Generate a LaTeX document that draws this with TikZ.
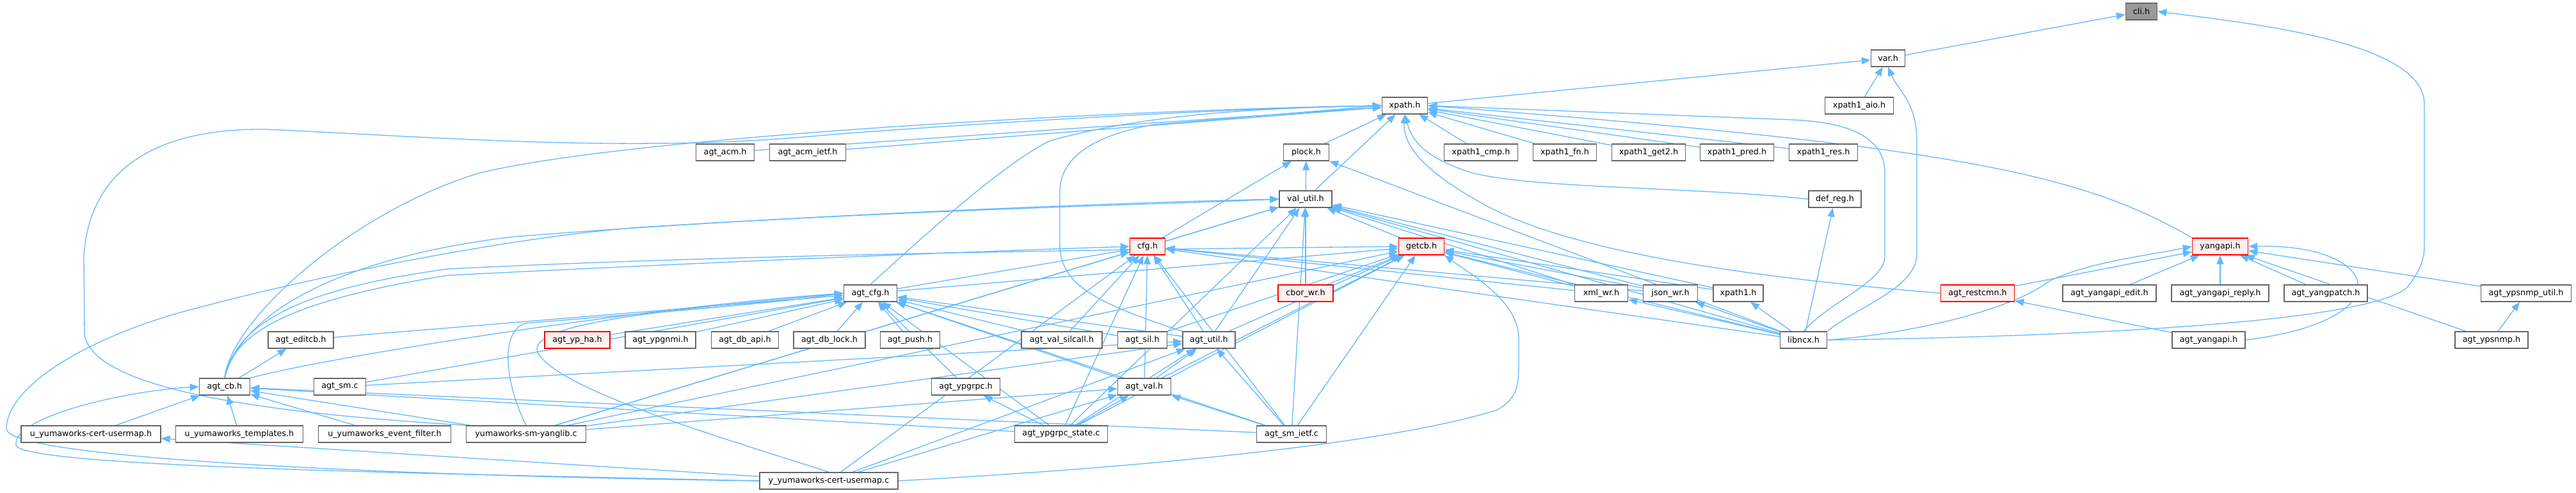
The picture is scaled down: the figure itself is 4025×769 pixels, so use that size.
\documentclass[tikz,border=0pt]{standalone}
\usepackage{fontspec}
\setmainfont{DejaVu Sans}
\usetikzlibrary{arrows.meta}
\definecolor{eblue}{HTML}{63B8FF}
\definecolor{bgray}{HTML}{666666}
\definecolor{pinkbg}{HTML}{FFF0F0}
\definecolor{cligray}{HTML}{999999}
\pgfdeclarelayer{bg}
\pgfsetlayers{bg,main}
\tikzset{
  nd/.style={draw=bgray, line width=1.4pt, fill=white, minimum height=26pt, inner sep=0pt,
    font=\fontsize{12.75}{15}\selectfont},
  rd/.style={nd, draw=red, fill=pinkbg},
  gd/.style={nd, fill=cligray},
  e/.style={draw=eblue, line width=1.3pt, -{Triangle[length=14pt,width=11pt]}},
}
\newcommand\mknode[6][nd]{\node[#1, minimum width=#5pt] (#2) at (#3,#4) {#6};}
\begin{document}
\begin{tikzpicture}[x=1pt,y=-1pt]
\useasboundingbox (0,0) rectangle (4025,769);
% row 0-2
\mknode[gd]{cli}{3346}{18}{49}{cli.h}
\mknode{var}{2950}{91}{53}{var.h}
\mknode{xpath}{2195}{165}{71}{xpath.h}
\mknode{xaio}{2905}{165}{107}{xpath1\_aio.h}
% row 3
\mknode{acm}{1133}{238}{91}{agt\_acm.h}
\mknode{acmietf}{1262}{238}{119}{agt\_acm\_ietf.h}
\mknode{plock}{2041}{238}{71}{plock.h}
\mknode{xcmp}{2314}{238}{115}{xpath1\_cmp.h}
\mknode{xfn}{2445}{238}{99}{xpath1\_fn.h}
\mknode{xget2}{2576}{238}{115}{xpath1\_get2.h}
\mknode{xpred}{2714}{238}{115}{xpath1\_pred.h}
\mknode{xres}{2849}{238}{107}{xpath1\_res.h}
% row 4
\mknode{valutil}{2040}{311}{82}{val\_util.h}
\mknode{defreg}{2867}{311}{82}{def\_reg.h}
% row 5
\mknode[rd]{cfg}{1793}{385}{55}{cfg.h}
\mknode[rd]{getcb}{2221}{385}{71}{getcb.h}
\mknode[rd]{yangapi}{3469}{385}{87}{yangapi.h}
% row 6
\mknode{agtcfg}{1360}{458}{83}{agt\_cfg.h}
\mknode[rd]{cbor}{2040}{458}{86}{cbor\_wr.h}
\mknode{xmlwr}{2502}{458}{83}{xml\_wr.h}
\mknode{jsonwr}{2610}{458}{85}{json\_wr.h}
\mknode{xpathone}{2716}{458}{78}{xpath1.h}
\mknode[rd]{restcmn}{3090}{458}{115}{agt\_restcmn.h}
\mknode{yedit}{3296}{458}{146}{agt\_yangapi\_edit.h}
\mknode{yreply}{3469}{458}{152}{agt\_yangapi\_reply.h}
\mknode{ypatch}{3634}{458}{130}{agt\_yangpatch.h}
\mknode{ypsutil}{3947}{458}{141}{agt\_ypsnmp\_util.h}
% row 7
\mknode{editcb}{470}{531}{102}{agt\_editcb.h}
\mknode[rd]{ypha}{902}{531}{102}{agt\_yp\_ha.h}
\mknode{ypgnmi}{1032}{531}{110}{agt\_ypgnmi.h}
\mknode{dbapi}{1164}{531}{105}{agt\_db\_api.h}
\mknode{dblock}{1296}{531}{112}{agt\_db\_lock.h}
\mknode{push}{1422}{531}{93}{agt\_push.h}
\mknode{silcall}{1659}{531}{126}{agt\_val\_silcall.h}
\mknode{sil}{1785}{531}{77}{agt\_sil.h}
\mknode{util}{1889}{531}{82}{agt\_util.h}
\mknode{libncx}{2818}{531}{73}{libncx.h}
\mknode{yangapih}{3451}{531}{114}{agt\_yangapi.h}
\mknode{ypsnmp}{3893}{531}{114}{agt\_ypsnmp.h}
% row 8
\mknode{cb}{351}{604}{79}{agt\_cb.h}
\mknode{sm}{531}{604}{81}{agt\_sm.c}
\mknode{ypgrpc}{1509}{604}{107}{agt\_ypgrpc.h}
\mknode{val}{1788}{604}{83}{agt\_val.h}
% row 9
\mknode{ucert}{142}{678}{218}{u\_yumaworks-cert-usermap.h}
\mknode{utmpl}{374}{678}{199}{u\_yumaworks\_templates.h}
\mknode{uevf}{601}{678}{207}{u\_yumaworks\_event\_filter.h}
\mknode{smyl}{822}{678}{187}{yumaworks-sm-yanglib.c}
\mknode{ypgst}{1658}{678}{145}{agt\_ypgrpc\_state.c}
\mknode{smietf}{2018}{678}{109}{agt\_sm\_ietf.c}
% row 10
\mknode{ycert}{1295}{751}{216}{y\_yumaworks-cert-usermap.c}

\begin{pgfonlayer}{bg}
% straight connectors: child/parent (arrow at parent)
\foreach \a/\b in {var/cli, xpath/var, xaio/var,
  plock/xpath, valutil/xpath, xcmp/xpath, xfn/xpath, xget2/xpath, xpred/xpath, xres/xpath,
  acm/xpath, acmietf/xpath,
  valutil/plock, cfg/plock,
  cfg/valutil, getcb/valutil, cbor/valutil, xmlwr/valutil, jsonwr/valutil, xpathone/valutil,
  libncx/valutil, smietf/valutil, ypgst/valutil, smyl/valutil, util/valutil,
  agtcfg/cfg, silcall/cfg, util/cfg, val/cfg, smietf/cfg, ypgst/cfg, ycert/cfg,
  xmlwr/cfg, jsonwr/cfg, libncx/cfg, smyl/cfg,
  cbor/getcb, xmlwr/getcb, jsonwr/getcb, xpathone/getcb, libncx/getcb, agtcfg/getcb,
  util/getcb, val/getcb, smietf/getcb, ypgst/getcb, sil/getcb, smyl/getcb,
  restcmn/yangapi, yedit/yangapi, yreply/yangapi, ypatch/yangapi, ypsutil/yangapi, ypsnmp/yangapi,
  yangapih/restcmn, ypsnmp/ypsutil,
  editcb/agtcfg, sm/agtcfg, ypha/agtcfg, ypgnmi/agtcfg, dbapi/agtcfg,
  dblock/agtcfg, push/agtcfg, silcall/agtcfg, sil/agtcfg, util/agtcfg, ypgrpc/agtcfg, val/agtcfg,
  ypgst/agtcfg, smietf/agtcfg,
  cb/editcb, ucert/cb, utmpl/cb, uevf/cb, smyl/cb, ypgst/cb, smietf/cb,
  sm/util, val/util, ypgst/util, smietf/util, smyl/util, ycert/util,
  ypgst/val, smietf/val, ycert/val, smyl/val, ypgst/ypgrpc, ycert/ucert,
  libncx/xmlwr, libncx/jsonwr, libncx/xpathone, libncx/defreg, libncx/plock}
  \draw[e] (\a) -- (\b);
% routed connectors
\draw[e] (libncx.east) .. controls (3300,525) and (3700,500) .. (3760,450)
  .. controls (3785,420) and (3788,400) .. (3788,383) -- (3788,163)
  .. controls (3788,70) and (3550,40) .. (cli.east);
\draw[e] (libncx.north east) .. controls (2900,480) and (2995,450) .. (2995,397) -- (2995,220)
  .. controls (2995,160) and (2965,140) .. (var.south);
\draw[e] (libncx.north) .. controls (2860,470) and (2945,440) .. (2945,400) -- (2945,270)
  .. controls (2945,210) and (2880,190) .. (2797,187) -- (xpath.east);
\draw[e] (defreg.west) .. controls (2650,292) and (2400,295) .. (2300,270)
  .. controls (2220,245) and (2205,215) .. (xpath.south);
\draw[e] (restcmn.west) .. controls (2700,430) and (2450,390) .. (2320,320)
  .. controls (2220,265) and (2192,225) .. (xpath.south);
\draw[e] (yangapi.north west) .. controls (3250,270) and (3050,228) .. (xpath.east);
\draw[e] (agtcfg.north) .. controls (1420,390) and (1560,260) .. (1640,220)
  .. controls (1800,175) and (2000,168) .. (xpath.west);
\draw[e] (util.north west) .. controls (1700,470) and (1656,440) .. (1656,380) -- (1656,300)
  .. controls (1656,240) and (1720,210) .. (1800,195) -- (xpath.west);
\draw[e] (cb.north) .. controls (360,500) and (550,330) .. (750,270)
  .. controls (1000,210) and (1800,170) .. (xpath.west);
\draw[e] (smyl.north west) .. controls (500,650) and (140,620) .. (132,520) -- (131,400)
  .. controls (140,260) and (250,200) .. (415,202)
  .. controls (700,215) and (1000,240) .. (1300,210)
  .. controls (1700,180) and (2000,168) .. (xpath.west);
\draw[e] (ycert.west) .. controls (700,745) and (15,720) .. (10,670)
  .. controls (10,600) and (150,520) .. (312,480)
  .. controls (500,430) and (800,370) .. (1000,355)
  .. controls (1400,330) and (1800,315) .. (valutil.west);
\draw[e] (ycert.west) .. controls (700,740) and (30,730) .. (25,695)
  .. controls (20,650) and (200,610) .. (cb.west);
\draw[e] (yangapih.east) .. controls (3760,500) and (3720,380) .. (yangapi.east);
\draw[e] (libncx.east) .. controls (3000,520) and (3150,480) .. (3200,440)
  .. controls (3260,410) and (3350,400) .. (yangapi.west);
% agt_cb.h fan to the upper right
\draw[e] (cb.north) .. controls (365,520) and (450,470) .. (700,430)
  .. controls (1200,405) and (1600,390) .. (cfg.west);
\draw[e] (cb.north) .. controls (370,500) and (480,450) .. (700,420)
  .. controls (1200,395) and (1900,388) .. (getcb.west);
\draw[e] (cb.north) .. controls (380,480) and (550,400) .. (800,370)
  .. controls (1300,330) and (1800,320) .. (valutil.west);
\draw[e] (cb.north east) .. controls (500,560) and (1000,480) .. (agtcfg.west);
% y_yumaworks-cert-usermap.c routed
\draw[e] (ycert.east) .. controls (1700,735) and (2150,700) .. (2340,640)
  .. controls (2373,620) and (2373,600) .. (2373,560) -- (2373,529)
  .. controls (2373,470) and (2300,430) .. (getcb.south east);
\draw[e] (ycert.north) .. controls (1150,690) and (870,610) .. (840,550)
  .. controls (820,500) and (1100,480) .. (agtcfg.west);
\draw[e] (smyl.north) .. controls (790,600) and (780,520) .. (820,505)
  .. controls (1000,490) and (1200,475) .. (agtcfg.west);
\end{pgfonlayer}
\end{tikzpicture}
\end{document}
